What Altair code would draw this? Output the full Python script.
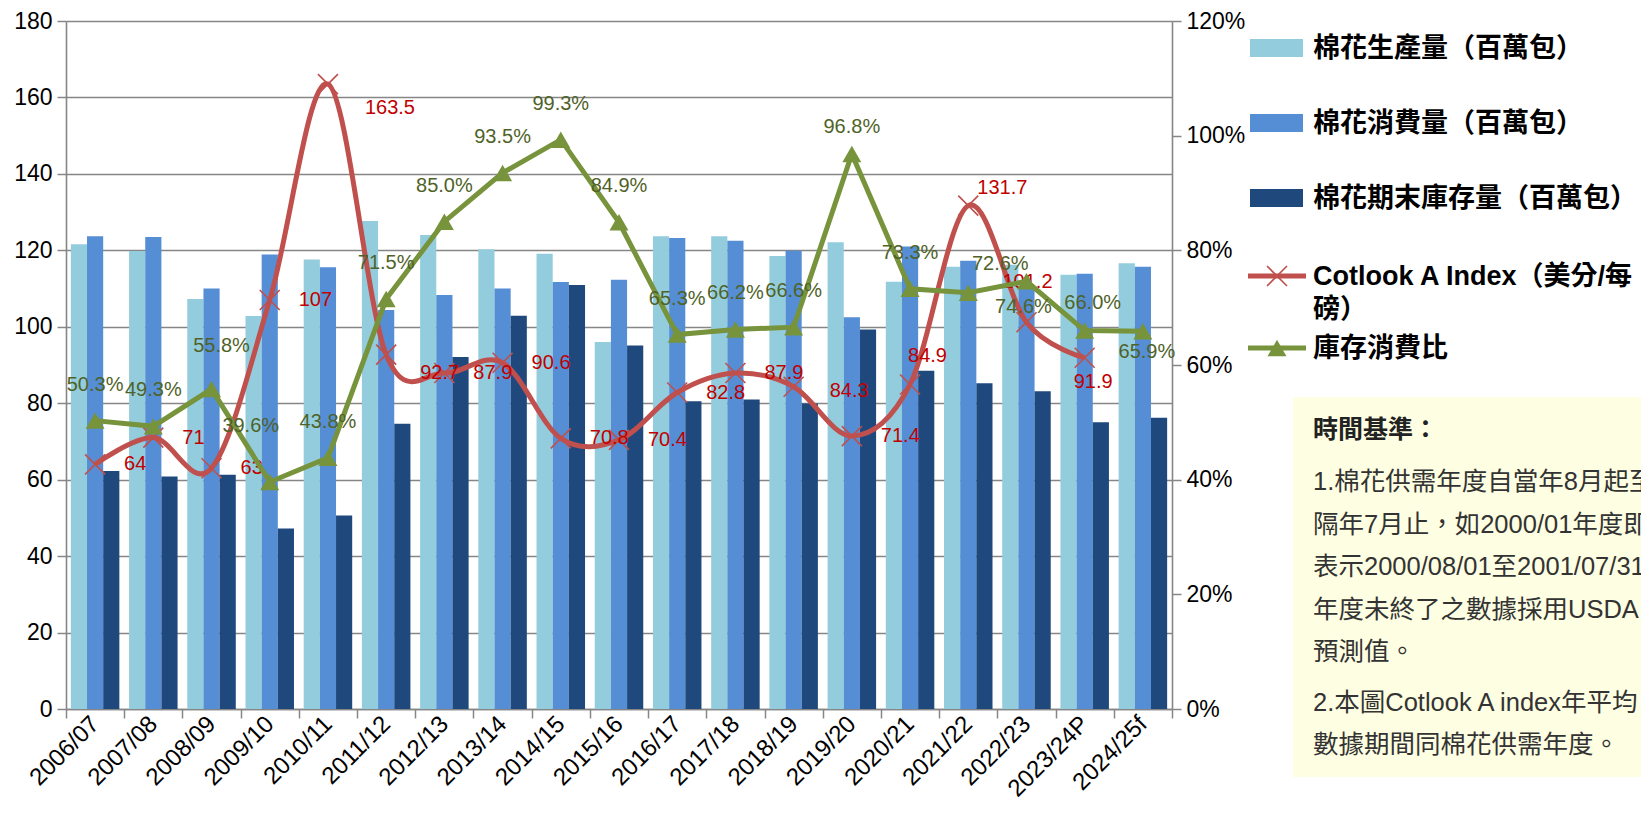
import altair as alt
import pandas as pd

# ---------------- data ----------------
years = ["2006/07", "2007/08", "2008/09", "2009/10", "2010/11", "2011/12", "2012/13",
         "2013/14", "2014/15", "2015/16", "2016/17", "2017/18", "2018/19", "2019/20",
         "2020/21", "2021/22", "2022/23", "2023/24P", "2024/25f"]
production = [121.6, 119.8, 107.3, 102.8, 117.6, 127.7, 124.0, 120.3, 119.1, 96.0,
              123.7, 123.7, 118.5, 122.1, 111.8, 115.7, 116.2, 113.6, 116.6]
consumption = [123.7, 123.5, 110.0, 118.9, 115.6, 104.4, 108.3, 110.0, 111.7, 112.3,
               123.2, 122.5, 119.9, 102.5, 121.0, 117.3, 110.5, 113.9, 115.7]
ending_stock = [62.3, 60.8, 61.3, 47.2, 50.6, 74.6, 92.1, 102.9, 110.9, 95.1,
                80.5, 81.0, 79.9, 99.3, 88.5, 85.2, 83.1, 75.0, 76.2]
cotlook = [64, 71, 63, 107, 163.5, 92.7, 87.9, 90.6, 70.8, 70.4,
           82.8, 87.9, 84.3, 71.4, 84.9, 131.7, 101.2, 91.9, None]
ratio = [50.3, 49.3, 55.8, 39.6, 43.8, 71.5, 85.0, 93.5, 99.3, 84.9,
         65.3, 66.2, 66.6, 96.8, 73.3, 72.6, 74.6, 66.0, 65.9]

series_names = ["棉花生產量（百萬包）", "棉花消費量（百萬包）", "棉花期末庫存量（百萬包）"]
series_colors = ["#93CDDD", "#558ED5", "#1F497D"]
red_name = "Cotlook A Index（美分/每磅）"
green_name = "庫存消費比"

bars_df = pd.DataFrame(
    [{"year": y, "series": s, "value": v}
     for s, vals in zip(series_names, [production, consumption, ending_stock])
     for y, v in zip(years, vals)]
)
lines_df = pd.DataFrame({"year": years, "cotlook": cotlook, "ratio": ratio})
lines_df["cotlook_label"] = [("" if v is None else f"{v:g}") for v in cotlook]
lines_df["ratio_label"] = [f"{v:.1f}%" for v in ratio]
cot_df = lines_df.dropna(subset=["cotlook"])

# ---------------- styles ----------------
W, H = 1106, 688
GRID = "#868686"
RED = "#C0504D"
RED_TXT = "#C00000"
GREEN = "#77933C"
GREEN_TXT = "#4F6228"
LATIN = "Liberation Sans, Arial, Noto Sans CJK TC, sans-serif"
LBL = 20

x_enc = alt.X(
    "year:N", sort=years, title=None,
    scale=alt.Scale(domain=years, paddingInner=0, paddingOuter=0),
    axis=alt.Axis(labelAngle=-45, labelAlign="right", labelBaseline="middle",
                  labelFontSize=24, labelFont=LATIN, labelColor="#000000",
                  labelPadding=2, tickBand="extent", tickSize=9, tickColor=GRID,
                  tickWidth=1.5, domainColor=GRID, domainWidth=1.5, grid=False),
)
left_axis = alt.Axis(values=list(range(0, 181, 20)), title=None, grid=True,
                     gridColor=GRID, gridWidth=1.6, domainColor=GRID, domainWidth=1.6,
                     tickColor=GRID, tickWidth=1.5, tickSize=9, labelFontSize=23,
                     labelFont=LATIN, labelColor="#000000", labelPadding=5)
left_scale = alt.Scale(domain=[0, 180], nice=False)

right_axis = alt.Axis(orient="right", values=list(range(0, 121, 20)), title=None,
                      grid=False, domainColor=GRID, domainWidth=1.6, tickColor=GRID,
                      tickWidth=1.5, tickSize=9, labelFontSize=23, labelFont=LATIN,
                      labelColor="#000000", labelPadding=5,
                      labelExpr="datum.value + '%'")
right_scale = alt.Scale(domain=[0, 120], nice=False)

# ---------------- left (bars + Cotlook) ----------------
bars = alt.Chart(bars_df).mark_bar().encode(
    x=x_enc,
    xOffset=alt.XOffset("series:N", sort=series_names,
                        scale=alt.Scale(domain=series_names, paddingInner=0, paddingOuter=0.3)),
    y=alt.Y("value:Q", scale=left_scale, axis=left_axis),
    color=alt.Color("series:N", scale=alt.Scale(domain=series_names, range=series_colors),
                    legend=None),
)

red_line = alt.Chart(cot_df).mark_line(color=RED, strokeWidth=5, interpolate="cardinal").encode(
    x=x_enc, y=alt.Y("cotlook:Q", scale=left_scale, axis=left_axis))

CROSS = "M-1,-1L1,1M-1,1L1,-1"
red_pts = alt.Chart(cot_df).mark_point(shape=CROSS, size=400, filled=False, color=RED,
                                        strokeWidth=1.6, opacity=1).encode(
    x=x_enc, y=alt.Y("cotlook:Q", scale=left_scale, axis=left_axis))

# label nudges (pixel offsets from each point) for the red labels
red_nudge = {
    "2010/11": (37, 24), "2011/12": (34, 18), "2018/19": (36, 4),
    "2020/21": (-2, -28), "2021/22": (9, -18), "2022/23": (-24, -40),
    "2023/24P": (-11, 24),
}
red_label_layers = []
default_years = [y for y in cot_df["year"] if y not in red_nudge]
groups = [(default_years, (29, 0))] + [([y], d) for y, d in red_nudge.items()]
for ys, (dx, dy) in groups:
    red_label_layers.append(
        alt.Chart(cot_df).transform_filter(alt.FieldOneOfPredicate(field="year", oneOf=ys))
        .mark_text(align="left", baseline="middle", dx=dx, dy=dy, fontSize=LBL,
                   font=LATIN, color=RED_TXT)
        .encode(x=x_enc, y=alt.Y("cotlook:Q", scale=left_scale, axis=left_axis),
                text="cotlook_label:N"))

left = alt.layer(bars, red_line, red_pts, *red_label_layers)

# ---------------- right (stock/consumption ratio) ----------------
green_line = alt.Chart(lines_df).mark_line(color=GREEN, strokeWidth=5).encode(
    x=x_enc, y=alt.Y("ratio:Q", scale=right_scale, axis=right_axis))
green_pts = alt.Chart(lines_df).mark_point(shape="triangle-up", size=360, filled=True,
                                           color=GREEN, opacity=1).encode(
    x=x_enc, y=alt.Y("ratio:Q", scale=right_scale, axis=right_axis))

green_nudge = {
    "2008/09": (10, -43), "2009/10": (-19, -56), "2019/20": (0, -27),
    "2021/22": (32, -29), "2022/23": (-3, 26), "2023/24P": (8, -28),
    "2024/25f": (4, 21),
}
green_label_layers = []
gdefault = [y for y in years if y not in green_nudge]
ggroups = [(gdefault, (0, -36))] + [([y], d) for y, d in green_nudge.items()]
for ys, (dx, dy) in ggroups:
    green_label_layers.append(
        alt.Chart(lines_df).transform_filter(alt.FieldOneOfPredicate(field="year", oneOf=ys))
        .mark_text(align="center", baseline="middle", dx=dx, dy=dy, fontSize=LBL,
                   font=LATIN, color=GREEN_TXT)
        .encode(x=x_enc, y=alt.Y("ratio:Q", scale=right_scale, axis=right_axis),
                text="ratio_label:N"))

right = alt.layer(green_line, green_pts, *green_label_layers)

# ---------------- legend + note box (pixel positions relative to plot origin) ----------------
dummy = pd.DataFrame({"k": [0]})


def box(x1, x2, y1, y2, color):
    return alt.Chart(dummy).mark_rect(color=color).encode(
        x=alt.value(x1), x2=alt.value(x2), y=alt.value(y1), y2=alt.value(y2))


def txt(text, x, y, size, weight="normal", color="#000000", font=LATIN):
    return alt.Chart(dummy).mark_text(text=text, align="left", baseline="middle",
                                      fontSize=size, fontWeight=weight, color=color,
                                      font=font).encode(x=alt.value(x), y=alt.value(y))


LEG_FONT = "Liberation Sans, Noto Sans CJK TC, sans-serif"
LEG_SIZE = 27
legend_layers = []
for i, (name, col) in enumerate(zip(series_names, series_colors)):
    yc = 27 + i * 75
    legend_layers.append(box(1184, 1237, yc - 9, yc + 9, col))
    legend_layers.append(txt(name, 1247, yc + 1, LEG_SIZE, "bold", font=LEG_FONT))

# Cotlook entry
legend_layers.append(alt.Chart(dummy).mark_rule(color=RED, strokeWidth=5).encode(
    x=alt.value(1182), x2=alt.value(1240), y=alt.value(255)))
legend_layers.append(alt.Chart(dummy).mark_point(shape=CROSS, size=400, filled=False, color=RED,
                                                 strokeWidth=1.6, opacity=1).encode(
    x=alt.value(1211), y=alt.value(255)))
legend_layers.append(txt("Cotlook A Index（美分/每", 1247, 256, LEG_SIZE, "bold", font=LEG_FONT))
legend_layers.append(txt("磅）", 1247, 289, LEG_SIZE, "bold", font=LEG_FONT))

# ratio entry
legend_layers.append(alt.Chart(dummy).mark_rule(color=GREEN, strokeWidth=5).encode(
    x=alt.value(1182), x2=alt.value(1240), y=alt.value(327)))
legend_layers.append(alt.Chart(dummy).mark_point(shape="triangle-up", size=360, filled=True,
                                                 color=GREEN, opacity=1).encode(
    x=alt.value(1211), y=alt.value(327)))
legend_layers.append(txt(green_name, 1247, 328, LEG_SIZE, "bold", font=LEG_FONT))

# note box
note_lines = [
    "1.棉花供需年度自當年8月起至",
    "隔年7月止，如2000/01年度即",
    "表示2000/08/01至2001/07/31",
    "年度未終了之數據採用USDA",
    "預測值。",
]
note2_lines = [
    "2.本圖Cotlook A index年平均",
    "數據期間同棉花供需年度。",
]
NOTE_FONT = "Liberation Sans, Noto Sans CJK TC, sans-serif"
NOTE_SIZE = 25.5
legend_layers.append(box(1227, 1620, 376, 756, "#FEFEE2"))
legend_layers.append(txt("時間基準：", 1247, 409, 25, "bold", "#222222", NOTE_FONT))
for i, line in enumerate(note_lines):
    legend_layers.append(txt(line, 1247, 461 + i * 42.5, NOTE_SIZE, "normal", "#333333", NOTE_FONT))
for i, line in enumerate(note2_lines):
    legend_layers.append(txt(line, 1247, 682 + i * 42, NOTE_SIZE, "normal", "#333333", NOTE_FONT))

chart = (
    alt.layer(left, right, *legend_layers)
    .resolve_scale(y="independent")
    .properties(width=W, height=H,
                padding={"left": 58, "top": 13, "right": 469, "bottom": 90},
                autosize=alt.AutoSizeParams(type="none"))
    .configure_view(strokeOpacity=0)
)

chart.save("out.html", embed_options={"renderer": "svg", "actions": False})
